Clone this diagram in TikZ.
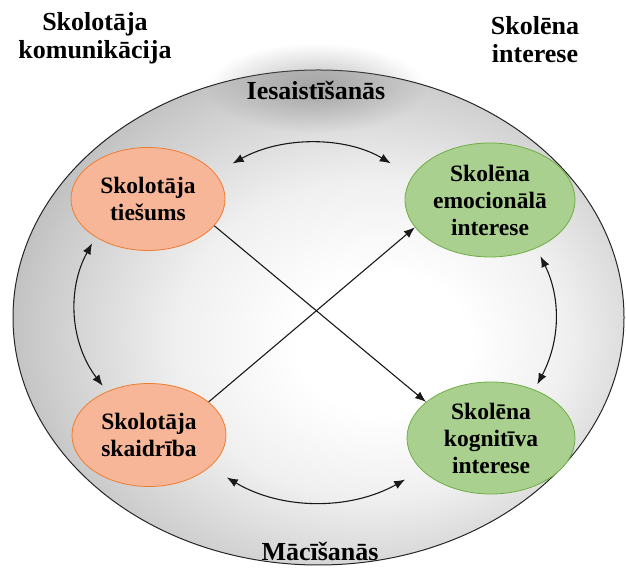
\documentclass[tikz,border=0pt]{standalone}
\usepackage{fontspec}
\setmainfont{Liberation Serif}
\usepackage{tikz}
\usetikzlibrary{shapes.geometric,arrows.meta,fadings}
\definecolor{tchfill}{RGB}{247,182,152}
\definecolor{tchdraw}{RGB}{237,125,49}
\definecolor{stdfill}{RGB}{169,208,142}
\definecolor{stddraw}{RGB}{112,173,71}
\pgfdeclareradialshading{ringshade}{\pgfpoint{6bp}{-3bp}}{%
  color(0bp)=(white); color(7bp)=(white); color(16bp)=(black!6);
  color(26bp)=(black!20); color(32bp)=(black!30); color(37bp)=(black!36);
  color(41bp)=(black!42); color(60bp)=(black!45)}
\tikzfading[name=softglow, inner color=transparent!45, outer color=transparent!100]
\tikzset{
    txtsty/.style={font=\fontsize{23.5}{27}\selectfont\bfseries, align=center},
    lblsty/.style={font=\fontsize{26}{28}\selectfont\bfseries, align=center},
    ringsty/.style={draw=black!85, line width=1pt, ellipse, shading=ringshade},
    tchsty/.style={txtsty, ellipse, draw=tchdraw, fill=tchfill, line width=0.8pt,
                   minimum width=154pt, minimum height=103pt, inner sep=0pt},
    stdsty/.style={txtsty, ellipse, draw=stddraw, fill=stdfill, line width=0.8pt,
                   minimum width=170pt, minimum height=114pt, inner sep=0pt},
    linksty/.style={draw=black!90, line width=1.1pt, >={Latex[length=11pt,width=8.5pt]}},
}

\begin{document}
\begin{tikzpicture}[x=1pt,y=1pt]
  \useasboundingbox (0,0) rectangle (626,569);

  % outer ring and its labels
  \node[ringsty, minimum width=611pt, minimum height=495pt] (ring) at (318.5,251.5) {};
  \fill[black!50, path fading=softglow] (316,481) ellipse (110 and 45);
  \node[lblsty] (engage) at (316,479) {Iesaistīšanās};
  \node[lblsty] (learn) at (320,18) {Mācīšanās};

  \node[lblsty] (tchcom) at (95,531) {Skolotāja\\komunikācija};
  \node[lblsty] (stdint) at (535,529) {Skolēna\\interese};

  % inner ellipses
  \node[tchsty] (tiesums) at (148,370) {Skolotāja\\tiešums};
  \node[tchsty] (skaidr) at (149,134) {Skolotāja\\skaidrība};
  \node[stdsty] (emoc) at (490,369) {Skolēna\\emocionālā\\interese};
  \node[stdsty, minimum width=168pt, minimum height=112pt] (kogn) at (491,131) {Skolēna\\kognitīva\\interese};

  % links
  \draw[linksty,<->, shorten <=20pt, shorten >=25pt] (tiesums.21) to[bend left=30] (emoc.163);
  \draw[linksty,<->, shorten <=20pt, shorten >=19pt] (skaidr.-28) to[bend right=30] (kogn.205);
  \draw[linksty,<->, shorten <=7pt, shorten >=7pt] (tiesums.216) to[bend right=33] (skaidr.134);
  \draw[linksty,<->, shorten <=9pt, shorten >=6pt] (emoc.-46) to[bend left=27] (kogn.48);
  \draw[linksty,->] (tiesums.-22) -- (kogn.151);
  \draw[linksty,->] (skaidr.29) -- (emoc.200);
\end{tikzpicture}
\end{document}
